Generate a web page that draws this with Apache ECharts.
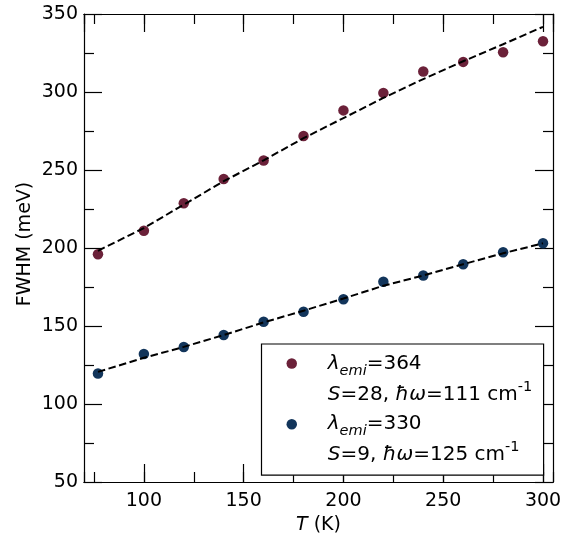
<!DOCTYPE html>
<html><head><meta charset="utf-8">
<script src="https://cdn.jsdelivr.net/npm/echarts@6/dist/echarts.min.js"></script>
<style>html,body{margin:0;padding:0;background:#fff}#c{width:564px;height:535px}</style>
</head><body><div id="c"></div>
<script>
// ---- data ----
const temps = [77, 100, 120, 140, 160, 180, 200, 220, 240, 260, 280, 300];
const fwhm364 = [196.0, 211.1, 228.7, 244.2, 256.1, 271.8, 288.2, 299.4, 313.1, 319.3, 325.5, 332.5];
const fwhm330 = [119.6, 132.0, 136.5, 144.2, 152.7, 159.1, 167.2, 178.4, 182.4, 189.6, 197.3, 203.0];
// fitted curves (dashed), read at the same temperatures
const fitT = [77, 100, 120, 140, 160, 180, 200, 220, 240, 260, 280, 300];
const fit364 = [198.2, 212.8, 227.8, 242.8, 256.2, 270.4, 283.3, 296.2, 308.3, 319.7, 330.6, 341.8];
const fit330 = [120.6, 129.6, 136.6, 144.2, 152.3, 159.8, 167.6, 175.8, 182.4, 189.6, 196.6, 203.0];
const xTickLabels = [100, 150, 200, 250, 300];
const yTickLabels = [50, 100, 150, 200, 250, 300, 350];
const seriesNames = ['364', '330'];
const legendLine1 = {'364': '{it|λ}{sub|emi}=364', '330': '{it|λ}{sub|emi}=330'};
const legendLine2 = {'364': '{it|S}=28, {it|ħω}=111 cm{sup|-1}', '330': '{it|S}=9, {it|ħω}=125 cm{sup|-1}'};

const FONT = 'DejaVu Sans';
const BLK = '#000';
const lineSt = {color: BLK, width: 1.2};
const richAxis = {
  it: {fontFamily: FONT, fontSize: 19, fontStyle: 'italic', color: BLK}
};
const richLegend = {
  it: {fontFamily: FONT, fontSize: 20, fontStyle: 'italic', color: BLK, lineHeight: 30},
  sub: {fontFamily: FONT, fontSize: 14.5, fontStyle: 'italic', color: BLK, verticalAlign: 'bottom', lineHeight: 22},
  sup: {fontFamily: FONT, fontSize: 14.5, color: BLK, verticalAlign: 'top', lineHeight: 18}
};

function xAx(pos, step, len, labels) {
  return {
    type: 'value', position: pos, min: 70, max: 305, minInterval: step, maxInterval: step,
    axisLine: {show: true, onZero: false, lineStyle: lineSt},
    axisTick: {show: true, inside: true, length: len, lineStyle: lineSt},
    axisLabel: labels ? {
      show: true, margin: 10, fontFamily: FONT, fontSize: 19, color: BLK,
      showMinLabel: false, showMaxLabel: false,
      formatter: v => xTickLabels.includes(v) ? String(v) : ''
    } : {show: false},
    splitLine: {show: false},
    name: labels ? '{it|T} (K)' : '',
    nameLocation: 'middle', nameGap: 31,
    nameTextStyle: {fontFamily: FONT, fontSize: 19, color: BLK, rich: richAxis}
  };
}
function yAx(pos, labels) {
  return {
    type: 'value', position: pos, min: 50, max: 350, interval: 50,
    axisLine: {show: true, onZero: false, lineStyle: lineSt},
    axisTick: {show: true, inside: true, length: 18, lineStyle: lineSt},
    minorTick: {show: true, splitNumber: 2, length: 10, lineStyle: lineSt},
    axisLabel: labels ? {
      show: true, margin: 6, fontFamily: FONT, fontSize: 19, color: BLK,
      formatter: v => yTickLabels.includes(v) ? String(v) : ''
    } : {show: false},
    splitLine: {show: false}, minorSplitLine: {show: false},
    name: labels ? 'FWHM (meV)' : '',
    nameLocation: 'middle', nameGap: 49, nameMoveOverlap: false,
    nameTextStyle: {fontFamily: FONT, fontSize: 19, color: BLK, padding: [0, 0, 0, 8]}
  };
}

const chart = echarts.init(document.getElementById('c'), null, {renderer: 'canvas'});
chart.setOption({
  animation: false,
  backgroundColor: '#fff',
  grid: {left: 84, right: 11, top: 14, bottom: 53, containLabel: false, outerBoundsMode: 'none'},
  xAxis: [xAx('bottom', 50, 18, true), xAx('bottom', 25, 10, false), xAx('top', 50, 18, false), xAx('top', 25, 10, false)],
  yAxis: [yAx('left', true), yAx('right', false)],
  legend: [
    {
      data: seriesNames, orient: 'vertical', left: 261.5, top: 344,
      itemWidth: 62, itemHeight: 10.5, itemGap: 30.7,
      padding: [4.5, 122, 36, 25], borderColor: BLK, borderWidth: 1.2, borderRadius: 0,
      backgroundColor: '#fff', selectedMode: false,
      textStyle: {fontFamily: FONT, fontSize: 20, color: BLK, lineHeight: 30, rich: richLegend},
      formatter: n => legendLine1[n]
    },
    {
      data: seriesNames, orient: 'vertical', left: 286.5, top: 379.5,
      itemWidth: 62, itemHeight: 10.5, itemGap: 30.7, padding: 0,
      itemStyle: {opacity: 0}, selectedMode: false,
      textStyle: {fontFamily: FONT, fontSize: 20, color: BLK, lineHeight: 30, rich: richLegend},
      formatter: n => legendLine2[n]
    }
  ],
  series: [
    {type: 'scatter', name: '364', xAxisIndex: 0, yAxisIndex: 0, symbol: 'circle', symbolSize: 10.5,
     itemStyle: {color: '#6B2139', opacity: 1}, z: 2, data: temps.map((t, i) => [t, fwhm364[i]])},
    {type: 'scatter', name: '330', xAxisIndex: 0, yAxisIndex: 0, symbol: 'circle', symbolSize: 10.5,
     itemStyle: {color: '#12355B', opacity: 1}, z: 2, data: temps.map((t, i) => [t, fwhm330[i]])},
    {type: 'line', name: 'fit364', xAxisIndex: 0, yAxisIndex: 0, symbol: 'none', silent: true, z: 3,
     lineStyle: {color: BLK, width: 2, type: [7.5, 3.5]}, data: fitT.map((t, i) => [t, fit364[i]])},
    {type: 'line', name: 'fit330', xAxisIndex: 0, yAxisIndex: 0, symbol: 'none', silent: true, z: 3,
     lineStyle: {color: BLK, width: 2, type: [7.5, 3.5]}, data: fitT.map((t, i) => [t, fit330[i]])}
  ]
});
</script></body></html>
